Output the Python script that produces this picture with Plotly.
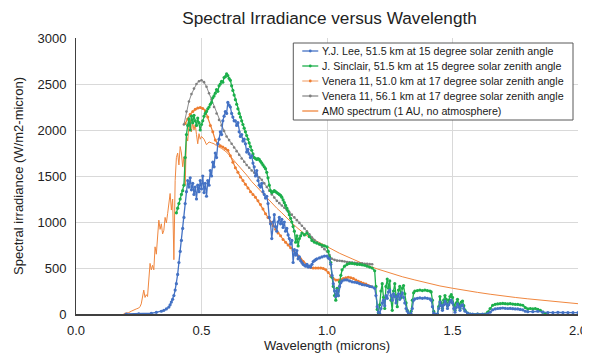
import plotly.graph_objects as go

# ---------------- data (wavelength in microns, irradiance in W/m2-micron) ----------------
lee = [(0.20,0),(0.25,2),(0.30,8),(0.32,18),(0.34,30),(0.35,40),(0.36,55),(0.37,75),(0.375,100),(0.38,130),
       (0.385,160),(0.39,200),(0.395,260),(0.40,330),(0.405,430),(0.41,560),(0.415,680),(0.42,800),(0.425,930),
       (0.43,1050),(0.435,1200),(0.44,1330),(0.445,1450),(0.45,1380),(0.455,1480),(0.46,1350),(0.465,1420),
       (0.47,1300),(0.475,1380),(0.48,1250),(0.485,1400),(0.49,1330),(0.495,1450),(0.50,1360),(0.505,1500),
       (0.51,1320),(0.515,1420),(0.52,1280),(0.525,1450),(0.53,1400),(0.535,1560),(0.54,1500),(0.545,1650),
       (0.55,1600),(0.555,1750),(0.56,1700),(0.565,1850),(0.57,1900),(0.575,1980),(0.58,1950),(0.585,2100),
       (0.59,2150),(0.595,2200),(0.60,2180),(0.605,2300),(0.61,2270),(0.615,2250),(0.62,2180),(0.625,2140),
       (0.63,2100),(0.635,2100),(0.64,2050),(0.645,2080),(0.65,1980),(0.655,1930),(0.66,1950),(0.665,1880),
       (0.67,1900),(0.675,1850),(0.68,1760),(0.685,1790),(0.69,1740),(0.695,1700),(0.70,1720),(0.705,1640),
       (0.71,1600),(0.715,1500),(0.72,1560),(0.725,1450),(0.73,1400),(0.735,1380),(0.74,1420),(0.745,1330),
       (0.75,1300),(0.755,1260),(0.76,1280),(0.765,1200),(0.77,1050),(0.775,980),(0.78,820),(0.785,1000),
       (0.79,1080),(0.795,950),(0.80,900),(0.805,1000),(0.81,1050),(0.815,980),(0.82,1030),(0.825,940),
       (0.83,1000),(0.835,900),(0.84,930),(0.845,860),(0.85,820),(0.855,760),(0.86,800),(0.865,560),
       (0.87,700),(0.875,640),(0.88,690),(0.885,600),(0.89,620),(0.895,580),(0.90,560),(0.905,540),
       (0.91,530),(0.915,520),(0.92,540),(0.925,510),(0.93,520),(0.935,510),(0.94,540),(0.945,570),
       (0.95,580),(0.955,590),(0.96,600),(0.97,610),(0.98,620),(0.99,630),(1.00,630),(1.005,610),
       (1.01,600),(1.015,540),(1.02,420),(1.025,330),(1.03,250),(1.035,190),(1.04,260),(1.045,200),
       (1.05,300),(1.055,340),(1.06,360),(1.07,370),(1.08,370),(1.09,360),(1.10,350),(1.11,345),
       (1.12,340),(1.13,330),(1.14,320),(1.15,315),(1.16,310),(1.17,300),(1.18,295),(1.19,280),
       (1.195,200),(1.20,80),(1.205,20),(1.21,5),(1.215,60),(1.22,120),(1.225,150),(1.23,90),(1.235,200),
       (1.24,170),(1.245,240),(1.25,260),(1.255,200),(1.26,150),(1.265,220),(1.27,190),(1.275,120),
       (1.28,190),(1.285,220),(1.29,160),(1.295,200),(1.30,230),(1.305,180),(1.31,120),(1.315,60),
       (1.32,30),(1.325,5),(1.33,0),(1.335,0),(1.34,60),(1.345,150),(1.35,165),(1.36,170),(1.37,175),
       (1.38,170),(1.39,175),(1.40,170),(1.41,165),(1.415,150),(1.42,80),(1.425,10),(1.43,0),(1.44,0),
       (1.445,60),(1.45,130),(1.455,90),(1.46,40),(1.465,100),(1.47,140),(1.475,110),(1.48,60),
       (1.485,100),(1.49,130),(1.495,150),(1.50,120),(1.505,60),(1.51,20),(1.515,70),(1.52,110),
       (1.525,80),(1.53,40),(1.535,90),(1.54,100),(1.545,60),(1.55,30),(1.56,10),(1.57,0),(1.58,0),
       (1.60,0),(1.62,0),(1.64,5),(1.65,20),(1.66,45),(1.67,55),(1.68,60),(1.69,62),(1.70,65),(1.71,62),
       (1.72,60),(1.73,62),(1.74,58),(1.75,55),(1.76,55),(1.77,50),(1.78,45),(1.79,30),(1.80,25),
       (1.82,25),(1.84,30),(1.86,20),(1.88,15),(1.90,15),(1.92,18),(1.94,15),(1.96,15),(1.98,15),(2.00,15)]

sinclair = [(0.40,1100),(0.405,1150),(0.41,1200),(0.415,1250),(0.42,1300),(0.425,1340),(0.43,1400),
       (0.435,1700),(0.44,1950),(0.445,2050),(0.45,2120),(0.455,2000),(0.46,2150),(0.465,2080),(0.47,2160),
       (0.475,2100),(0.48,2050),(0.485,2130),(0.49,2080),(0.495,2000),(0.50,2060),(0.505,2100),(0.51,2150),
       (0.515,2180),(0.52,2200),(0.525,2230),(0.53,2250),(0.535,2280),(0.54,2300),(0.545,2350),(0.55,2370),
       (0.555,2400),(0.56,2440),(0.565,2420),(0.57,2480),(0.575,2500),(0.58,2530),(0.585,2520),(0.59,2570),
       (0.595,2580),(0.60,2610),(0.605,2590),(0.61,2560),(0.615,2540),(0.62,2480),(0.625,2430),(0.63,2380),
       (0.635,2330),(0.64,2280),(0.645,2230),(0.65,2180),(0.655,2140),(0.66,2100),(0.665,2060),(0.67,2020),
       (0.675,1980),(0.68,1940),(0.685,1900),(0.69,1860),(0.695,1820),(0.70,1780),(0.705,1740),(0.71,1700),
       (0.715,1690),(0.72,1680),(0.725,1690),(0.73,1680),(0.735,1660),(0.74,1640),(0.745,1620),(0.75,1600),
       (0.755,1580),(0.76,1540),(0.765,1480),(0.77,1400),(0.775,1340),(0.78,1320),(0.785,1330),(0.79,1340),
       (0.795,1330),(0.80,1320),(0.805,1310),(0.81,1300),(0.815,1290),(0.82,1270),(0.825,1240),(0.83,1210),
       (0.835,1180),(0.84,1150),(0.845,1120),(0.85,1080),(0.855,1040),(0.86,1000),(0.865,950),(0.87,900),
       (0.875,780),(0.88,850),(0.885,740),(0.89,820),(0.895,850),(0.90,880),(0.91,860),(0.92,880),
       (0.93,840),(0.94,800),(0.95,780),(0.96,770),(0.97,760),(0.98,750),(0.99,740),(1.00,730),
       (1.005,680),(1.01,620),(1.015,560),(1.02,400),(1.025,300),(1.03,200),(1.035,150),(1.04,280),
       (1.045,200),(1.05,350),(1.055,420),(1.06,480),(1.07,520),(1.08,540),(1.09,550),(1.10,550),
       (1.11,545),(1.12,540),(1.13,540),(1.14,535),(1.15,530),(1.16,520),(1.17,510),(1.18,500),(1.19,470),
       (1.195,300),(1.20,50),(1.205,10),(1.21,100),(1.215,250),(1.22,330),(1.225,180),(1.23,60),(1.235,300),
       (1.24,380),(1.245,280),(1.25,360),(1.255,150),(1.26,40),(1.265,250),(1.27,330),(1.275,200),
       (1.28,80),(1.285,260),(1.29,300),(1.295,180),(1.30,280),(1.305,310),(1.31,220),(1.315,120),
       (1.32,40),(1.325,0),(1.33,0),(1.335,30),(1.34,150),(1.345,230),(1.35,250),(1.36,255),(1.37,260),
       (1.38,255),(1.39,260),(1.40,255),(1.41,250),(1.415,240),(1.42,150),(1.425,30),(1.43,0),(1.44,0),
       (1.445,80),(1.45,190),(1.455,120),(1.46,60),(1.465,150),(1.47,200),(1.475,160),(1.48,90),
       (1.485,150),(1.49,190),(1.495,210),(1.50,180),(1.505,100),(1.51,40),(1.515,120),(1.52,160),
       (1.525,110),(1.53,60),(1.535,130),(1.54,140),(1.545,90),(1.55,40),(1.56,10),(1.57,0),(1.60,0),
       (1.63,0),(1.64,20),(1.65,60),(1.66,95),(1.67,105),(1.68,110),(1.69,112),(1.70,115),(1.71,112),
       (1.72,110),(1.73,112),(1.74,108),(1.75,105),(1.76,105),(1.77,100),(1.78,95),(1.79,70),(1.80,55),
       (1.81,60),(1.82,55),(1.83,60),(1.84,50),(1.85,40),(1.86,20),(1.87,5)]

venera_51 = [(0.435,2070),(0.445,2120),(0.455,2170),(0.465,2200),(0.475,2225),(0.485,2240),(0.495,2245),
       (0.505,2235),(0.515,2210),(0.525,2140),(0.535,2050),(0.545,1980),(0.555,1890),(0.565,1850),
       (0.575,1830),(0.585,1815),(0.595,1800),(0.605,1780),(0.615,1720),(0.625,1650),(0.635,1590),
       (0.645,1540),(0.655,1490),(0.665,1450),(0.675,1410),(0.685,1370),(0.695,1330),(0.705,1300),
       (0.715,1270),(0.725,1230),(0.735,1190),(0.745,1140),(0.755,1090),(0.765,1050),(0.775,1000),
       (0.785,960),(0.795,920),(0.805,880),(0.815,850),(0.825,810),(0.835,780),(0.845,750),(0.855,720),
       (0.865,690),(0.875,660),(0.885,630),(0.895,600),(0.905,570),(0.915,540),(0.925,520),(0.935,505),
       (0.945,500),(0.955,500),(0.965,500),(0.975,500),(0.985,495),(0.995,480),(1.005,450),(1.015,410),
       (1.025,385),(1.035,370),(1.045,370),(1.055,375),(1.065,385),(1.075,395),(1.085,400),(1.095,395),
       (1.105,385),(1.115,370),(1.125,355),(1.135,345),(1.145,335),(1.155,325),(1.165,310),(1.175,300)]

venera_56 = [(0.43,2060),(0.44,2200),(0.45,2310),(0.46,2390),(0.47,2450),(0.48,2500),(0.49,2530),(0.50,2540),
       (0.51,2520),(0.52,2470),(0.53,2400),(0.54,2330),(0.55,2250),(0.56,2180),(0.57,2110),(0.58,2050),
       (0.59,1990),(0.60,1930),(0.61,1890),(0.62,1850),(0.63,1810),(0.64,1770),(0.65,1730),(0.66,1690),
       (0.67,1655),(0.68,1620),(0.69,1590),(0.70,1560),(0.71,1535),(0.72,1510),(0.73,1485),(0.74,1460),
       (0.75,1420),(0.76,1380),(0.77,1340),(0.78,1300),(0.79,1265),(0.80,1230),(0.81,1205),(0.82,1180),
       (0.83,1155),(0.84,1130),(0.85,1105),(0.86,1080),(0.87,1050),(0.88,1020),(0.89,990),(0.90,960),
       (0.91,930),(0.92,900),(0.93,865),(0.94,830),(0.95,805),(0.96,780),(0.97,755),(0.98,730),(0.99,705),
       (1.00,680),(1.01,640),(1.02,600),(1.03,588),(1.04,580),(1.05,578),(1.06,575),(1.07,570),(1.08,565),
       (1.09,562),(1.10,560),(1.11,557),(1.12,555),(1.13,552),(1.14,550),(1.15,547),(1.16,545),(1.17,542),
       (1.18,540)]

am0 = [(0.19,5),(0.20,10),(0.21,15),(0.22,30),(0.23,45),(0.24,55),(0.25,65),(0.255,80),(0.26,110),(0.265,200),
       (0.27,260),(0.275,180),(0.28,210),(0.285,190),(0.29,420),(0.295,550),(0.30,480),(0.305,530),(0.31,480),
       (0.315,730),(0.32,650),(0.325,820),(0.33,1020),(0.335,920),(0.34,980),(0.345,870),(0.35,910),
       (0.355,1050),(0.36,990),(0.365,1090),(0.37,1200),(0.375,1310),(0.38,1130),(0.385,1250),(0.39,590),
       (0.395,1450),(0.40,1700),(0.405,1750),(0.41,1620),(0.415,1820),(0.42,1750),(0.425,1600),(0.43,1710),
       (0.435,1400),(0.44,1930),(0.445,1880),(0.45,2050),(0.455,2110),(0.46,1980),(0.465,2080),(0.47,2000),
       (0.475,2060),(0.48,1950),(0.485,1850),(0.49,1960),(0.495,1900),(0.50,1930),(0.51,1900),(0.52,1840),
       (0.53,1870),(0.54,1860),(0.55,1850),(0.56,1830),(0.58,1800),(0.60,1760),(0.62,1700),(0.64,1640),
       (0.66,1570),(0.68,1510),(0.70,1440),(0.72,1380),(0.74,1320),(0.76,1260),(0.78,1200),(0.80,1150),
       (0.82,1100),(0.84,1040),(0.86,990),(0.88,940),(0.90,890),(0.92,850),(0.94,820),(0.96,790),
       (0.98,760),(1.00,730),(1.05,660),(1.10,600),(1.15,540),(1.20,490),(1.25,445),(1.30,405),(1.35,370),
       (1.40,335),(1.45,305),(1.50,280),(1.55,255),(1.60,235),(1.65,215),(1.70,195),(1.75,180),(1.80,165),
       (1.85,150),(1.90,138),(1.95,125),(2.00,112)]

series_names = ["Y.J. Lee, 51.5 km at 15 degree solar zenith angle",
                "J. Sinclair, 51.5 km at 15 degree solar zenith angle",
                "Venera 11, 51.0 km at 17 degree solar zenith angle",
                "Venera 11, 56.1 km at 17 degree solar zenith angle",
                "AM0 spectrum (1 AU, no atmosphere)"]
x_ticks = [0.0, 0.5, 1.0, 1.5, 2.0]
y_ticks = [0, 500, 1000, 1500, 2000, 2500, 3000]

# ---------------- styles ----------------
styles = [
    dict(data=lee, line="#4472C4", marker="#4472C4", lw=1.3, ms=3.2),
    dict(data=sinclair, line="#1CAF4B", marker="#1CAF4B", lw=1.3, ms=3.2),
    dict(data=venera_51, line="#ED7D31", marker="#ED7D31", lw=1.2, ms=3),
    dict(data=venera_56, line="#8C8C8C", marker="#7F7F7F", lw=1.0, ms=2.6),
    dict(data=am0, line="#F0873F", marker=None, lw=1.0, ms=0),
]
draw_order = [4, 2, 3, 1, 0]

FONT = "Liberation Sans, Arial, Helvetica, sans-serif"
fig = go.Figure()
for i in draw_order:
    s = styles[i]
    xs = [p[0] for p in s["data"]]
    ys = [p[1] for p in s["data"]]
    if s["marker"]:
        fig.add_trace(go.Scatter(x=xs, y=ys, mode="lines+markers", name=series_names[i],
                                 line=dict(color=s["line"], width=s["lw"]),
                                 marker=dict(color=s["marker"], size=s["ms"], line=dict(width=0)),
                                 showlegend=False))
    else:
        fig.add_trace(go.Scatter(x=xs, y=ys, mode="lines", name=series_names[i],
                                 line=dict(color=s["line"], width=s["lw"]), showlegend=False))

# ---------------- layout geometry (page has an 8px body margin) ----------------
OFF = 8
W, H = 582, 348
L, R, T, B = 67.5, 12, 30, 42
pw, ph = W - L - R, H - T - B
def px(vx):
    # viewport pixel -> paper x
    return (vx - OFF - L) / pw
def py(vy):
    # viewport pixel -> paper y
    return (H - B - (vy - OFF)) / ph

shapes = [dict(type="rect", xref="paper", yref="paper", x0=px(293), x1=px(573), y0=py(120), y1=py(43),
               line=dict(color="#595959", width=1), fillcolor="white", layer="above")]
annotations = []
rows = [51, 66, 81, 96, 111]
legend_line_colors = ["#4472C4", "#1CAF4B", "#F4B183", "#8C8C8C", "#F0873F"]
for i, yrow in enumerate(rows):
    shapes.append(dict(type="line", xref="paper", yref="paper", x0=px(302), x1=px(318), y0=py(yrow), y1=py(yrow),
                       line=dict(color=legend_line_colors[i], width=1.3), layer="above"))
    if styles[i]["marker"]:
        shapes.append(dict(type="circle", xref="paper", yref="paper", x0=px(308.6), x1=px(311.4),
                           y0=py(yrow + 1.4), y1=py(yrow - 1.4),
                           line=dict(width=0), fillcolor=styles[i]["marker"], layer="above"))
    annotations.append(dict(x=px(320), y=py(yrow), xref="paper", yref="paper", text=series_names[i],
                            showarrow=False, xanchor="left", yanchor="middle",
                            font=dict(family=FONT, size=10.7, color="#1a1a1a")))

fig.update_layout(
    template="none",
    width=W, height=H,
    margin=dict(l=L, r=R, t=T, b=B, pad=0),
    paper_bgcolor="white", plot_bgcolor="white",
    font=dict(family=FONT, color="#222222"),
    title=dict(text="Spectral Irradiance versus Wavelength", x=0.505, xref="paper", xanchor="center",
               y=(H - (17.5 - OFF)) / H, yref="container", yanchor="middle",
               font=dict(family=FONT, size=17.2, color="#222222")),
    showlegend=False,
    shapes=shapes,
    annotations=annotations,
)
fig.update_xaxes(range=[0, 2.0], tickvals=x_ticks, ticktext=[f"{v:.1f}" for v in x_ticks],
                 automargin=False,
                 showgrid=True, gridcolor="#D9D9D9", gridwidth=1, zeroline=False,
                 showline=True, linecolor="#404040", linewidth=1.5, ticks="",
                 tickfont=dict(family=FONT, size=13, color="#222222"), ticklabelstandoff=4,
                 title=dict(text="Wavelength (microns)", font=dict(family=FONT, size=13, color="#222222"), standoff=4))
fig.update_yaxes(range=[0, 3000], tickvals=y_ticks, automargin=False,
                 showgrid=True, gridcolor="#D9D9D9", gridwidth=1,
                 zeroline=False, showline=True, linecolor="#404040", linewidth=1, ticks="",
                 tickfont=dict(family=FONT, size=13, color="#222222"), ticklabelstandoff=6,
                 title=dict(text="Spectral irradiance (W/m2-micron)",
                            font=dict(family=FONT, size=13, color="#222222"), standoff=10))

fig.write_html("out.html")
